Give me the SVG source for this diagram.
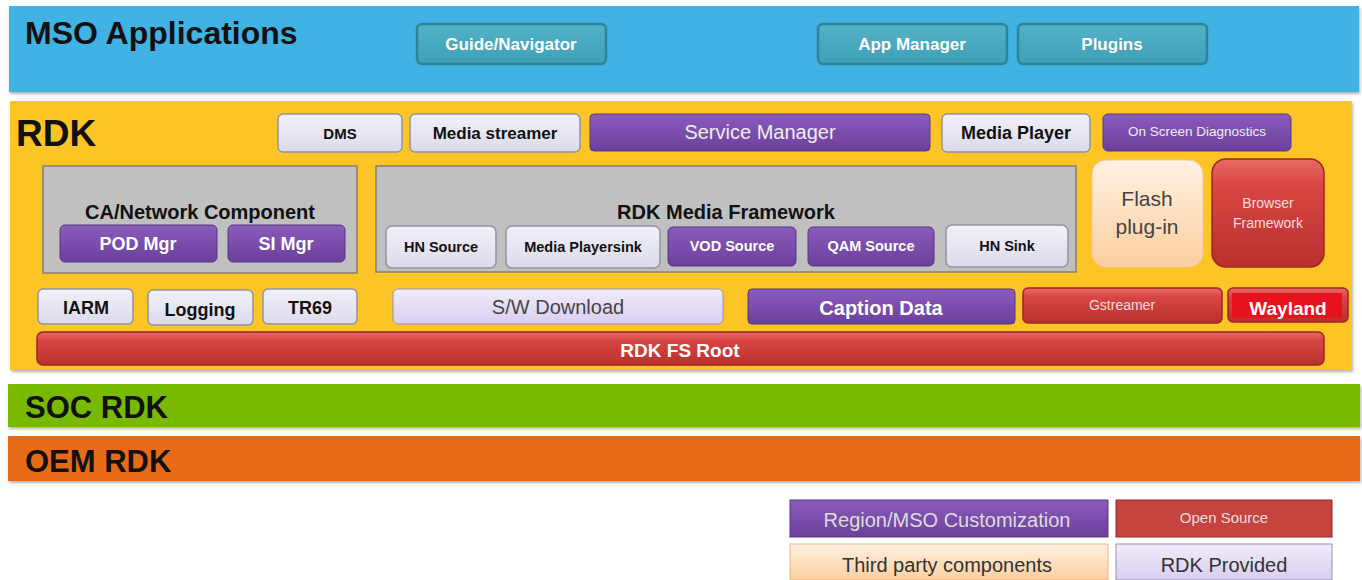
<svg xmlns="http://www.w3.org/2000/svg" width="1362" height="580" viewBox="0 0 1362 580">
<defs>
<linearGradient id="gRed" x1="0" y1="0" x2="0" y2="1">
<stop offset="0" stop-color="#e86a66"/><stop offset="0.25" stop-color="#d94643"/><stop offset="1" stop-color="#b8302d"/>
</linearGradient>
<linearGradient id="gPur" x1="0" y1="0" x2="0" y2="1">
<stop offset="0" stop-color="#8a5cbc"/><stop offset="1" stop-color="#6b3f9c"/>
</linearGradient>
<linearGradient id="gLav" x1="0" y1="0" x2="0" y2="1">
<stop offset="0" stop-color="#f2f1f8"/><stop offset="1" stop-color="#dcdaea"/>
</linearGradient>
<linearGradient id="gSw" x1="0" y1="0" x2="0" y2="1">
<stop offset="0" stop-color="#f1ecfb"/><stop offset="1" stop-color="#d9cdf0"/>
</linearGradient>
<linearGradient id="gPeach" x1="0" y1="0" x2="0" y2="1">
<stop offset="0" stop-color="#fff0e2"/><stop offset="1" stop-color="#fbcf9f"/>
</linearGradient>
<linearGradient id="gTeal" x1="0" y1="0" x2="0" y2="1">
<stop offset="0" stop-color="#52b3c8"/><stop offset="1" stop-color="#3f9fb6"/>
</linearGradient>
<filter id="sh" x="-5%" y="-20%" width="110%" height="150%">
<feDropShadow dx="1" dy="2" stdDeviation="1.5" flood-color="#000" flood-opacity="0.3"/>
</filter>
</defs>
<style>
text{font-family:"Liberation Sans Narrow","Liberation Sans",Arial,sans-serif;text-anchor:middle}
.band{font-family:"Liberation Sans",Arial,sans-serif;font-weight:bold;fill:#111;text-anchor:start}
.teal{fill:url(#gTeal);stroke:#2f8496;stroke-width:2.5}
.red{fill:url(#gRed);stroke:#9e2522;stroke-width:1.5}
.pur{fill:url(#gPur);stroke:#5a3485;stroke-width:1}
.lav{fill:url(#gLav);stroke:#8e94a8;stroke-width:1.5}
.grey{fill:#c0c0c0;stroke:#8a7f70;stroke-width:1.5}
.wb{fill:#fff;font-weight:bold}
.kb{fill:#111;font-weight:bold}
</style>

<g id="mso">
<rect x="9" y="6" width="1350" height="86" fill="#40b2e4" filter="url(#sh)"/>
<text class="band" x="25" y="44" font-size="32">MSO Applications</text>
</g>
<g id="guide"><rect class="teal" x="417" y="24" width="189" height="40" rx="5"/><text class="wb" x="511" y="50" font-size="17">Guide/Navigator</text></g>
<g id="appmgr"><rect class="teal" x="818" y="24" width="189" height="40" rx="5"/><text class="wb" x="912" y="50" font-size="17">App Manager</text></g>
<g id="plugins"><rect class="teal" x="1018" y="24" width="189" height="40" rx="5"/><text class="wb" x="1112" y="50" font-size="17">Plugins</text></g>

<g id="rdk">
<rect x="10" y="101" width="1342" height="269" fill="#fdc428" filter="url(#sh)"/>
<text class="band" x="16" y="146" font-size="37">RDK</text>
</g>
<g id="dms"><rect class="lav" x="278" y="114" width="124" height="38" rx="5"/><text class="kb" x="340" y="139" font-size="15">DMS</text></g>
<g id="mstreamer"><rect class="lav" x="410" y="114" width="170" height="38" rx="5"/><text class="kb" x="495" y="139" font-size="17">Media streamer</text></g>
<g id="svcmgr"><rect class="pur" x="590" y="114" width="340" height="37" rx="4"/><text x="760" y="139" font-size="20" fill="#eee">Service Manager</text></g>
<g id="mplayer"><rect class="lav" x="942" y="114" width="148" height="38" rx="5"/><text class="kb" x="1016" y="139" font-size="18">Media Player</text></g>
<g id="osd"><rect class="pur" x="1103" y="114" width="188" height="37" rx="5"/><text x="1197" y="136" font-size="13.5" fill="#eee">On Screen Diagnostics</text></g>

<g id="ca">
<rect class="grey" x="43" y="166" width="314" height="107"/>
<text class="kb" x="200" y="219" font-size="20">CA/Network  Component</text>
</g>
<g id="podmgr"><rect class="pur" x="60" y="225" width="157" height="37" rx="5"/><text class="wb" x="138" y="250" font-size="18">POD Mgr</text></g>
<g id="simgr"><rect class="pur" x="228" y="225" width="117" height="37" rx="5"/><text class="wb" x="286" y="250" font-size="18">SI Mgr</text></g>

<g id="mediafw">
<rect class="grey" x="376" y="166" width="700" height="106"/>
<text class="kb" x="726" y="219" font-size="20">RDK Media Framework</text>
</g>
<g id="hnsource"><rect class="lav" x="386" y="226" width="110" height="42" rx="6"/><text class="kb" x="441" y="252" font-size="14.5">HN Source</text></g>
<g id="mpsink"><rect class="lav" x="506" y="226" width="154" height="42" rx="6"/><text class="kb" x="583" y="252" font-size="14.5">Media Playersink</text></g>
<g id="vod"><rect class="pur" x="668" y="227" width="128" height="39" rx="5"/><text class="wb" x="732" y="251" font-size="14.5">VOD Source</text></g>
<g id="qam"><rect class="pur" x="808" y="227" width="126" height="39" rx="5"/><text class="wb" x="871" y="251" font-size="14.5">QAM Source</text></g>
<g id="hnsink"><rect class="lav" x="946" y="225" width="122" height="42" rx="6"/><text class="kb" x="1007" y="251" font-size="14.5">HN Sink</text></g>

<g id="flash"><rect x="1092" y="160" width="111" height="107" rx="14" fill="url(#gPeach)" stroke="#f3c79a" stroke-width="1"/>
<text x="1147" y="206" font-size="21" fill="#444">Flash</text><text x="1147" y="234" font-size="21" fill="#444">plug-in</text></g>
<g id="browser"><rect class="red" x="1212" y="159" width="112" height="108" rx="14"/>
<text x="1268" y="208" font-size="14" fill="#f3dede">Browser</text><text x="1268" y="228" font-size="14" fill="#f3dede">Framework</text></g>

<g id="iarm"><rect class="lav" x="38" y="289" width="95" height="35" rx="5"/><text class="kb" x="86" y="314" font-size="18">IARM</text></g>
<g id="logging"><rect class="lav" x="148" y="290" width="105" height="35" rx="5"/><text class="kb" x="200" y="316" font-size="18">Logging</text></g>
<g id="tr69"><rect class="lav" x="263" y="289" width="94" height="35" rx="5"/><text class="kb" x="310" y="314" font-size="18">TR69</text></g>
<g id="swdl"><rect x="393" y="289" width="330" height="35" rx="5" fill="url(#gSw)" stroke="#9a90b8" stroke-width="1"/><text x="558" y="314" font-size="20" fill="#444">S/W Download</text></g>
<g id="caption"><rect class="pur" x="748" y="289" width="267" height="35" rx="4"/><text class="wb" x="881" y="315" font-size="20">Caption Data</text></g>
<g id="gstreamer"><rect class="red" x="1023" y="288" width="199" height="35" rx="5"/><text x="1122" y="310" font-size="14" fill="#eedcdc">Gstreamer</text></g>
<g id="wayland"><rect class="red" x="1228" y="288" width="120" height="34" rx="5"/><rect x="1232" y="293" width="110" height="25" fill="#e6121e"/><text x="1288" y="315" font-size="19" fill="#fff" font-weight="bold" font-family="Liberation Sans,Arial,sans-serif">Wayland</text></g>
<g id="fsroot"><rect class="red" x="37" y="332" width="1287" height="33" rx="6"/><text class="wb" x="680" y="357" font-size="19">RDK FS Root</text></g>

<g id="soc">
<rect x="8" y="384" width="1352" height="43" fill="#79b901" filter="url(#sh)"/>
<text class="band" x="25" y="418" font-size="31">SOC RDK</text>
</g>
<g id="oem">
<rect x="8" y="436" width="1352" height="45" fill="#e76b12" filter="url(#sh)"/>
<text class="band" x="25" y="472" font-size="31">OEM RDK</text>
</g>

<g id="legend">
<g id="lg-region"><rect x="790" y="500" width="318" height="37" fill="url(#gPur)" stroke="#5a3485"/><text x="947" y="527" font-size="20" fill="#ddd">Region/MSO Customization</text></g>
<g id="lg-open"><rect x="1116" y="500" width="216" height="37" fill="#c5443f" stroke="#9e2522"/><text x="1224" y="523" font-size="15" fill="#f1dcdc">Open  Source</text></g>
<g id="lg-third"><rect x="790" y="544" width="318" height="36" fill="url(#gPeach)" stroke="#e9b98a"/><text x="947" y="572" font-size="20" fill="#333">Third party components</text></g>
<g id="lg-rdk"><rect x="1116" y="544" width="216" height="36" fill="url(#gSw)" stroke="#9a90b8"/><text x="1224" y="572" font-size="20" fill="#333">RDK Provided</text></g>
</g>
<g id="connectors"></g>
</svg>
